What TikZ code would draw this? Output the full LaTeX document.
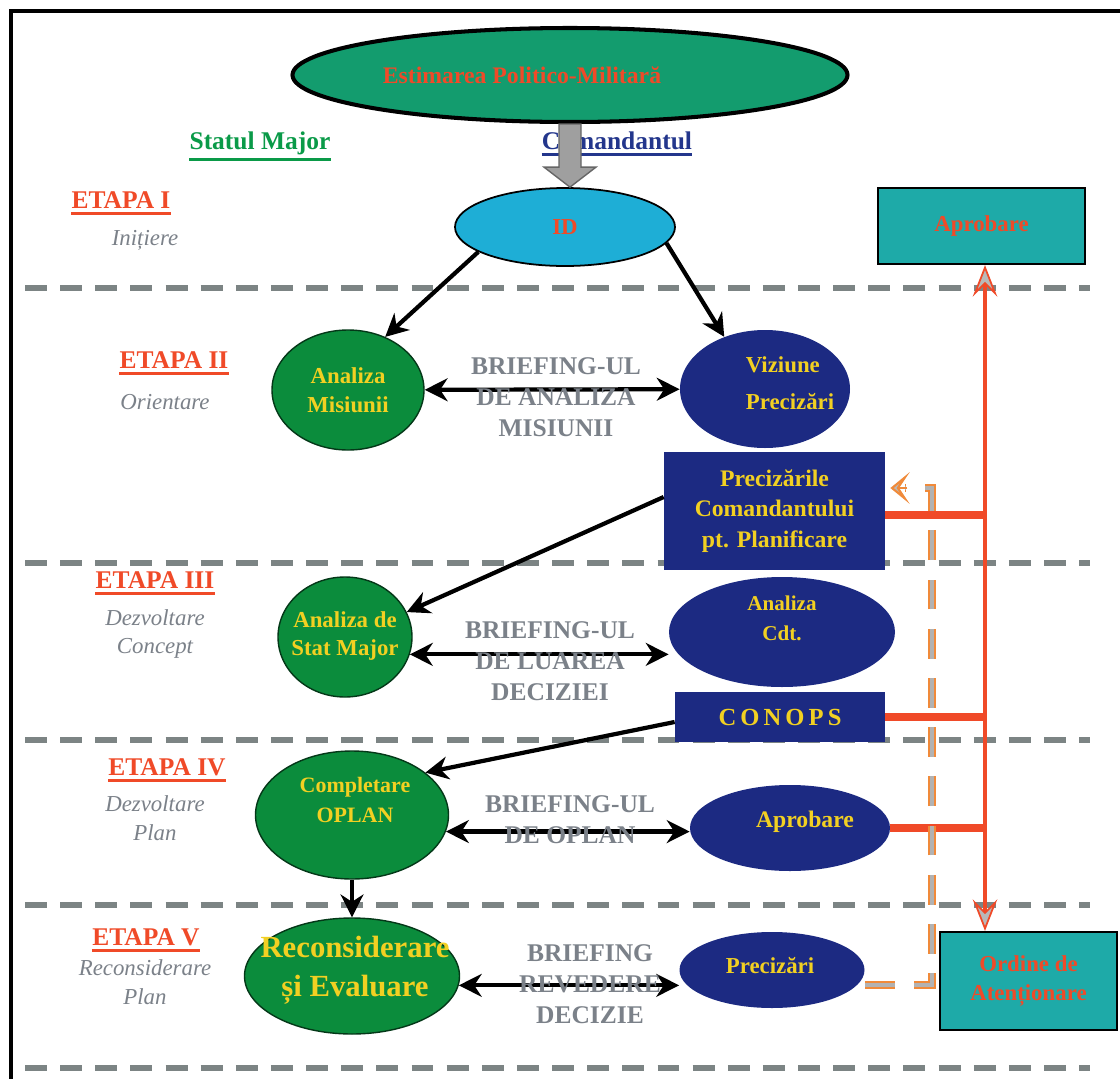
\documentclass[tikz,border=0pt]{standalone}
\usepackage{fontspec}
\setmainfont{Liberation Serif}
\usetikzlibrary{shapes.geometric,arrows.meta,calc}
\definecolor{cteal}{HTML}{139C6E}
\definecolor{cgreen}{HTML}{0B8C3C}
\definecolor{cnavy}{HTML}{1C2A82}
\definecolor{ccyan}{HTML}{1EAED6}
\definecolor{cbox}{HTML}{1EAAA8}
\definecolor{cred}{HTML}{F04A28}
\definecolor{cyellow}{HTML}{F2D022}
\definecolor{cgtxt}{HTML}{7B8189}
\definecolor{cdash}{HTML}{7C8484}
\definecolor{cgtitle}{HTML}{0A9A48}
\definecolor{cntitle}{HTML}{23368C}
\definecolor{corange}{HTML}{F08A3A}
\def\U{0.02cm}
\tikzset{
  ell/.style={ellipse, inner sep=0pt},
  greenell/.style={ell, fill=cgreen, draw=black!60!cgreen, line width=0.8pt},
  navyell/.style={ell, fill=cnavy},
  navybox/.style={rectangle, fill=cnavy, inner sep=0pt},
  tealbox/.style={rectangle, fill=cbox, draw=black, line width=1.2pt, inner sep=0pt},
  ytxt/.style={text=cyellow, align=center, inner sep=0pt, font=\fontsize{13}{16.5}\selectfont\bfseries},
  rtxt/.style={text=cred, align=center, inner sep=0pt, font=\fontsize{13}{17}\selectfont\bfseries},
  sepline/.style={draw=cdash, line width=3.4pt, dash pattern=on 12.5pt off 7.5pt},
  arr/.style={draw=black, line width=2.4pt, -{Stealth[length=13pt,width=13pt]}},
  dbl/.style={draw=black, line width=2.4pt, {Stealth[length=13pt,width=13pt]}-{Stealth[length=13pt,width=13pt]}},
  brief/.style={text=cgtxt, align=center, inner sep=0pt, font=\fontsize{14.5}{17.5}\selectfont\bfseries},
  etapa/.style={text=cred, inner sep=0pt, font=\fontsize{14.5}{17}\selectfont\bfseries},
  subt/.style={text=cgtxt, align=center, inner sep=0pt, font=\fontsize{13}{16.5}\selectfont\itshape},
  ulred/.style={draw=cred, line width=1.8pt},
  redv/.style={draw=cred, line width=2.8pt},
  redh/.style={draw=cred, line width=4.5pt},
  rtip/.tip={Stealth[length=18pt,width=14pt,inset=7pt,fill=gray!55,line width=1pt]},
  otip/.tip={Stealth[length=11pt,width=18pt,inset=6pt,fill=gray!55,line width=1.2pt]},
  odash/.style={draw=corange, line width=4.5pt, dash pattern=on 17pt off 11pt},
  odashin/.style={draw=gray!60, line width=2pt, dash pattern=on 17pt off 11pt},
  blockarrow/.style={fill=gray!75, draw=black!60, line width=0.8pt},
}
\begin{document}
\begin{tikzpicture}[x=0.02cm, y=-0.02cm]
\useasboundingbox (0,0) rectangle (1120,1079);
\fill[white] (0,0) rectangle (1120,1079);
% frame
\draw[black, line width=2.8pt] (11,1079) -- (11,11) -- (1120,11);

% separators
\foreach \yy in {288,563,740,905,1068} \draw[sepline] (25,\yy) -- (1090,\yy);

% stage labels
\node[etapa] (e1) at (121,200) {ETAPA I};
\node[subt] (s1) at (145,240) {Inițiere};
\node[etapa] (e2) at (174,360) {ETAPA II};
\node[subt] (s2) at (165,402) {Orientare};
\node[etapa] (e3) at (155,580) {ETAPA III};
\node[subt] (s3) at (155,634) {Dezvoltare\\Concept};
\node[etapa] (e4) at (167,767) {ETAPA IV};
\node[subt] (s4) at (155,818) {Dezvoltare\\Plan};
\node[etapa] (e5) at (146,937) {ETAPA V};
\node[subt] (s5) at (145,982) {Reconsiderare\\Plan};
\foreach \n in {e1,e2,e3,e4,e5}
  \draw[ulred] ([yshift=-2.5pt]\n.south west) -- ([yshift=-2.5pt]\n.south east);

% column titles
\node[text=cgtitle, inner sep=0pt, font=\fontsize{14.5}{17}\selectfont\bfseries] (sm) at (260,143) {Statul Major};
\draw[draw=cgtitle, line width=1.8pt] ([yshift=-2.5pt]sm.south west) -- ([yshift=-2.5pt]sm.south east);
\node[text=cntitle, inner sep=0pt, font=\fontsize{14.5}{17}\selectfont\bfseries] (cmd) at (617,141) {Comandantul};
\draw[draw=cntitle, line width=1.8pt] ([yshift=-2.5pt]cmd.south west) -- ([yshift=-2.5pt]cmd.south east);

% top ellipse and ID
\node[ell, fill=cteal, draw=black, line width=2.3pt, minimum width=555*\U, minimum height=94*\U] (est) at (570,75) {};
\node[rtxt, font=\fontsize{13.5}{17}\selectfont\bfseries] (estT) at (522,75) {Estimarea Politico-Militară};
\node[ell, fill=ccyan, draw=black, line width=1pt, minimum width=220*\U, minimum height=78*\U] (id) at (565,227) {};
\node[rtxt] (idT) at (id) {ID};
\coordinate (tipA) at (id.north -| est.south);
\draw[blockarrow] ($(est.south)+(-11,0)$) -- ($(est.south)+(11,0)$) -- ($(tipA)+(11,-20)$) -- ($(tipA)+(26,-20)$) -- (tipA) -- ($(tipA)+(-26,-20)$) -- ($(tipA)+(-11,-20)$) -- cycle;

% Aprobare (top right)
\node[tealbox, minimum width=207*\U, minimum height=76*\U] (apr1) at (981.5,226) {};
\node[rtxt] (apr1T) at (apr1) {Aprobare};

% Stage II
\node[greenell, minimum width=152*\U, minimum height=120*\U] (am) at (348,390) {};
\node[ytxt] (amT) at (am) {Analiza\\Misiunii};
\node[navyell, minimum width=170*\U, minimum height=118*\U] (viz) at (765,389) {};
\node[ytxt, align=left, font=\fontsize{13}{21}\selectfont\bfseries] (vizT) at (790,383) {Viziune\\Precizări};
\node[navybox, minimum width=221*\U, minimum height=118*\U] (pb) at (774.5,511) {};
\node[ytxt, font=\fontsize{13.5}{17.5}\selectfont\bfseries] (pbT) at (pb) {Precizările\\Comandantului\\pt. Planificare};

% Stage III
\node[greenell, minimum width=134*\U, minimum height=120*\U] (asm) at (345,637) {};
\node[ytxt] (asmT) at (345,636) {Analiza de\\Stat Major};
\node[navyell, minimum width=226*\U, minimum height=110*\U] (cdt) at (782,632) {};
\node[ytxt, font=\fontsize{12}{17}\selectfont\bfseries] (cdtT) at (782,618) {Analiza\\Cdt.};
\node[navybox, minimum width=210*\U, minimum height=50*\U] (cnp) at (780,717) {};
\node[ytxt, font=\fontsize{14}{17}\selectfont\bfseries] (cnpT) at (cnp) {C\,O\,N\,O\,P\,S};

% Stage IV
\node[greenell, minimum width=193*\U, minimum height=128*\U] (co) at (352,815) {};
\node[ytxt, font=\fontsize{12.5}{17}\selectfont\bfseries] (coT) at (355,800) {Completare\\OPLAN};
\node[navyell, minimum width=200*\U, minimum height=86*\U] (apr2) at (790,828) {};
\node[ytxt, font=\fontsize{13.5}{17}\selectfont\bfseries] (apr2T) at (805,822) {Aprobare};

% Stage V
\node[greenell, minimum width=215*\U, minimum height=116*\U] (rec) at (352,976) {};
\node[ytxt, font=\fontsize{17.5}{22}\selectfont\bfseries] (recT) at (355,970) {Reconsiderare\\și Evaluare};
\node[navyell, minimum width=185*\U, minimum height=76*\U] (prz) at (772,970) {};
\node[ytxt] (przT) at (770,966) {Precizări};
\node[tealbox, minimum width=177*\U, minimum height=98*\U] (ord) at (1028.5,981) {};
\node[rtxt] (ordT) at (ord) {Ordine de\\Atenționare};

% black connectors
\draw[arr] (id.196) -- (am.55);
\draw[arr] (id.351) -- (viz.128);
\draw[arr] ([yshift=0.28cm]pb.west) -- (asm.22);
\draw[arr] ([yshift=-0.1cm]cnp.west) -- (co.30);
\draw[arr] (co.south) -- (rec.north);
\draw[dbl] (am) -- (viz);
\draw[dbl] (asm.-15) -- (cdt.west |- asm.-15);
\draw[dbl] (co.-10) -- (apr2.west |- co.-10);
\draw[dbl] (rec.-5) -- (prz.west |- rec.-5);

% briefing labels
\node[brief] (b1) at (556,397) {BRIEFING-UL\\DE ANALIZA\\MISIUNII};
\node[brief] (b2) at (550,661) {BRIEFING-UL\\DE LUAREA\\DECIZIEI};
\node[brief] (b3) at (570,820) {BRIEFING-UL\\DE OPLAN};
\node[brief] (b4) at (590,984) {BRIEFING\\REVEDERE\\DECIZIE};

% red connectors
\coordinate (vx) at (985,0);
\draw[redh] (pb.east |- 0,515) -- (vx |- 0,515);
\draw[redh] (cnp.east) -- (vx |- cnp.east);
\draw[redh] (apr2.east) -- (vx |- apr2.east);
\draw[redv, rtip-rtip] (apr1.south -| vx) -- (ord.north -| vx);

% orange dashed feedback
\coordinate (ob) at (932,985);
\coordinate (ot) at (932,488);
\draw[odash] (ob -| prz.east) -- (ob) -- (ot) -- ($(ot -| pb.east)+(20,0)$);
\draw[odashin] (ob -| prz.east) -- (ob) -- (ot) -- ($(ot -| pb.east)+(20,0)$);
\draw[draw=corange, line width=1.2pt, -otip] ($(ot -| pb.east)+(22,0)$) -- ($(ot -| pb.east)+(5,0)$);
\end{tikzpicture}
\end{document}
